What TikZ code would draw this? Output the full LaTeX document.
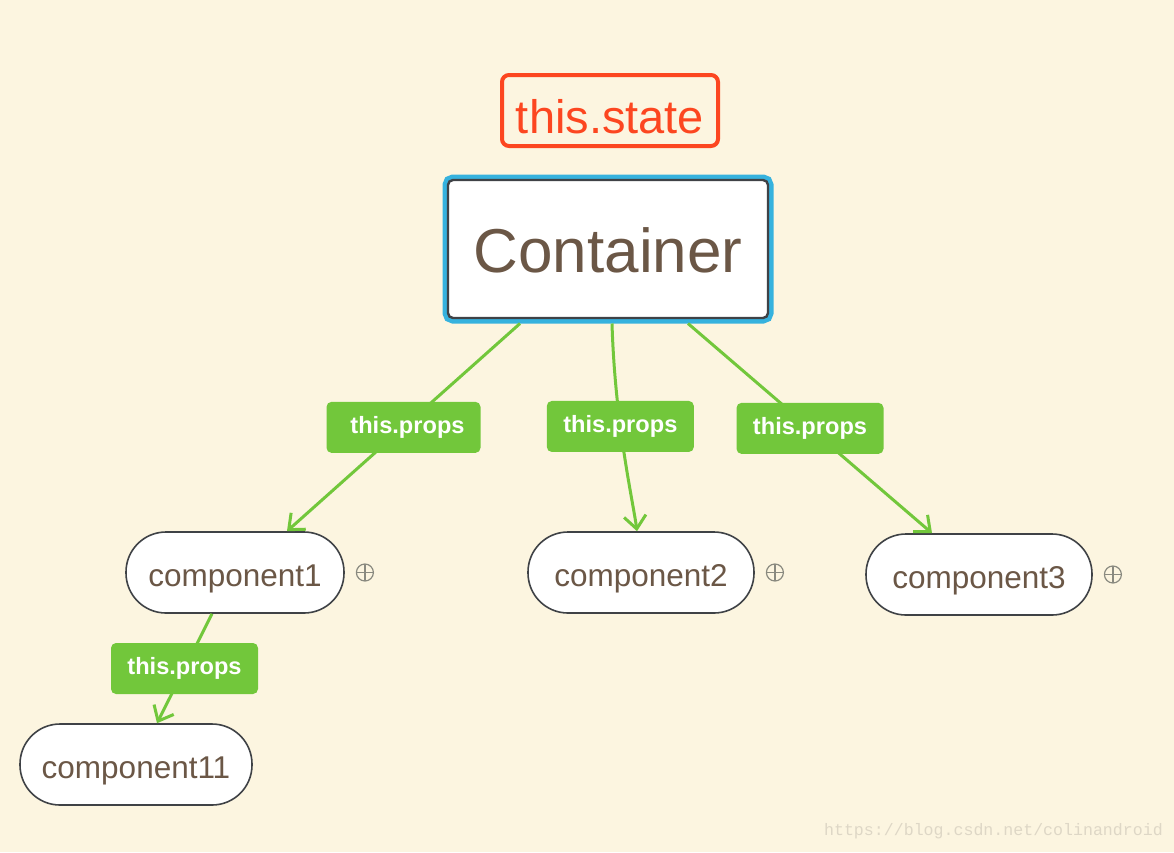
\documentclass[tikz,border=0pt]{standalone}
\usepackage{fontspec}
\setmainfont{Liberation Sans}
\newfontfamily\wmfont{Liberation Mono}
\usetikzlibrary{positioning,arrows.meta}
\definecolor{bgc}{HTML}{FCF5E0}
\definecolor{stred}{HTML}{FC4620}
\definecolor{ctblue}{HTML}{36B2DE}
\definecolor{ctdark}{HTML}{3F4246}
\definecolor{txbrown}{HTML}{6B5746}
\definecolor{grn}{HTML}{72C73B}
\definecolor{plsgray}{HTML}{8A8A80}
\definecolor{wmc}{HTML}{DED7C6}
\tikzset{
  stt/.style={draw=stred, line width=4pt, rounded corners=7pt, minimum width=216pt, minimum height=71pt, inner sep=0pt, text height=45pt, text depth=0pt, text=stred, font=\fontsize{47}{56}\selectfont},
  ctr/.style={preaction={draw=ctblue, line width=11pt}, draw=ctdark, line width=2.4pt, fill=white, rounded corners=5pt, minimum width=320pt, minimum height=138pt, inner sep=0pt, text height=46pt, text depth=0pt, outer sep=5.5pt, text=txbrown, font=\fontsize{62}{74}\selectfont},
  cmp/.style={draw=ctdark, line width=1.6pt, fill=white, rounded corners=40pt, minimum height=81pt, inner sep=0pt, text height=27pt, text depth=0pt, text=txbrown, font=\fontsize{31.5}{38}\selectfont},
  lbl/.style={fill=grn, rounded corners=5pt, minimum width=147pt, minimum height=51pt, inner sep=0pt, text=white, font=\bfseries\fontsize{23.6}{28}\selectfont},
  pls/.style={circle, draw=plsgray, line width=1.2pt, minimum size=17pt, inner sep=0pt, path picture={\draw[plsgray, line width=1.2pt] (path picture bounding box.north) -- (path picture bounding box.south) (path picture bounding box.west) -- (path picture bounding box.east);}},
  arr/.style={-{Straight Barb[length=13pt, width=22pt]}, draw=grn, line width=3pt},
  wm/.style={inner sep=0pt, text=wmc, font=\wmfont\fontsize{16.6}{20}\selectfont},
}
\begin{document}
\begin{tikzpicture}[x=1pt, y=-1pt]
\fill[bgc] (0,0) rectangle (1174,852);
\useasboundingbox (0,0) rectangle (1174,852);
% state and container
\node[stt] (st) at (610,110.5) {this.state};
\node[ctr] (ct) at (608,249) {Container};
% components
\node[cmp, minimum width=218pt] (c1) at (235,572.5) {component1};
\node[cmp, minimum width=226pt] (c2) at (641,572.5) {component2};
\node[cmp, minimum width=226pt] (c3) at (979,574.5) {component3};
\node[cmp, minimum width=232pt] (c11) at (136,764.5) {component11};
\node[pls, right=11pt of c1] (p1) {};
\node[pls, right=11pt of c2] (p2) {};
\node[pls, right=11pt of c3] (p3) {};
% props flow
\draw[arr] ([xshift=-88pt]ct.south) -- node[lbl, minimum width=154pt] (l1) {\hspace{8pt}this.props} ([xshift=52pt]c1.north);
\draw[arr] ([xshift=4pt]ct.south) .. controls +(3,100) and +(-4,-30) .. node[lbl, pos=0.38] (l2) {this.props} ([xshift=-4pt]c2.north);
\draw[arr] ([xshift=80pt]ct.south) -- node[lbl] (l3) {this.props} ([xshift=-47pt]c3.north);
\draw[arr] ([xshift=-23pt]c1.south) -- node[lbl] (l4) {this.props} ([xshift=21pt]c11.north);
\node[wm, anchor=east] (wm) at (1163,831) {https://blog.csdn.net/colinandroid};
\end{tikzpicture}
\end{document}
